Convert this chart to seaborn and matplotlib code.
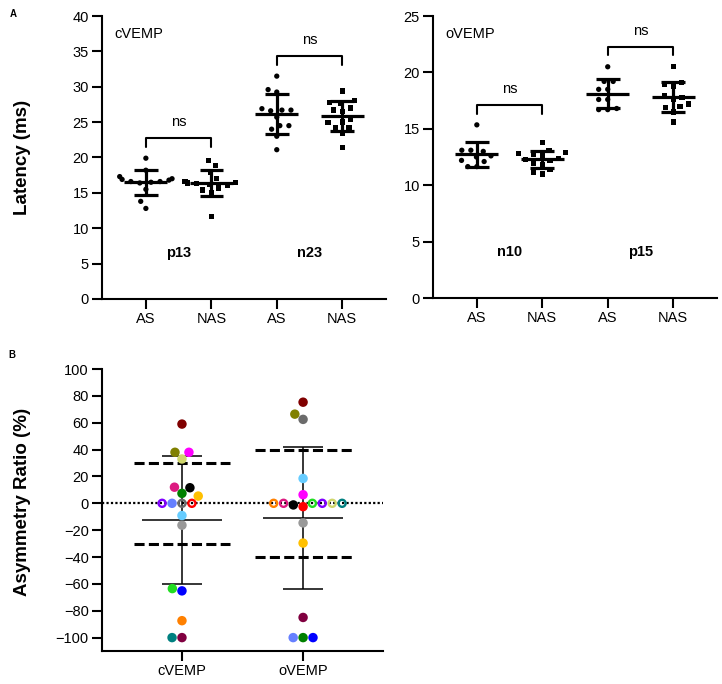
import numpy as np
import pandas as pd
import matplotlib
matplotlib.use("Agg")
import matplotlib.pyplot as plt
import seaborn as sns

# ---- panel A: latencies (ms) ----
p13_as = [19.9, 18.2, 17.3, 17.0, 16.8, 16.9, 16.6, 16.5, 16.4, 16.6, 15.5, 13.8, 12.8]
p13_nas = [19.6, 18.9, 17.9, 17.0, 16.6, 16.5, 16.4, 16.3, 16.2, 16.0, 15.7, 15.4, 15.0, 11.7]
n23_as = [31.5, 29.6, 29.25, 26.7, 26.6, 26.7, 26.9, 25.7, 24.5, 24.0, 24.5, 23.0, 21.1]
n23_nas = [29.4, 28.1, 27.7, 27.8, 27.0, 26.5, 26.7, 25.4, 25.0, 24.9, 24.2, 24.2, 23.4, 21.4]
n10_as = [15.35, 13.0, 13.1, 13.1, 12.6, 12.5, 12.1, 12.2, 11.65, 11.65]
n10_nas = [13.8, 13.1, 12.9, 12.8, 12.7, 12.6, 12.4, 12.3, 12.2, 11.9, 11.8, 11.4, 11.1, 11.0]
p15_as = [20.5, 19.2, 19.2, 18.5, 18.5, 17.6, 17.6, 16.8, 16.7, 16.7]
p15_nas = [20.5, 19.1, 18.9, 18.8, 17.9, 17.8, 17.6, 17.2, 17.0, 16.9, 16.5, 15.6]
groups = ["AS", "NAS"]

# ---- panel B: asymmetry ratio (%) per subject ----
tests = ["cVEMP", "oVEMP"]
ar_cvemp = [59, 38, 38, 33, 11.6, 12, 5.4, 7.4, 0, 0, 0, 0, -9.1, -16.3, -63.5, -65.2, -87.4, -100, -100]
ar_ovemp = [75.3, 66.4, 6.4, 0, -1.2, 0, -29.6, -100, 62.5, -2.5, -100, 0, 18.5, -14.6, 0, -100, 0, 0, -85]
# open symbols (no response)
open_cvemp = [0, 0, 0, 0, 0, 0, 0, 0, 1, 1, 0, 1, 0, 0, 0, 0, 0, 0, 0]
open_ovemp = [0, 0, 0, 1, 0, 1, 0, 0, 0, 0, 0, 1, 0, 0, 1, 0, 1, 1, 0]
normal_limit = [30, 40]

subject_colors = ["#800000", "#808000", "#ff00ff", "#cfd66c", "#000000", "#dc1a80",
                  "#ffc000", "#008000", "#6b6b6b", "#ff0000", "#6680ff", "#8000ff",
                  "#66ccff", "#999999", "#22dd22", "#0000ff", "#ff8000", "#008080", "#800040"]

sns.set_style("ticks")
plt.rcParams["font.family"] = ["Liberation Sans", "DejaVu Sans"]
plt.rcParams.update({"axes.linewidth": 1.5, "text.color": "black", "axes.labelcolor": "black",
                     "axes.edgecolor": "black", "xtick.color": "black", "ytick.color": "black"})
FS = 10.5


def style_axis(ax):
    sns.despine(ax=ax)
    ax.tick_params(axis="both", length=7.5, width=1.5, pad=2, labelsize=FS, colors="black")
    ax.set_xlabel("")


def latency_panel(ax, waves, title, ymax):
    rows = []
    for wave, as_vals, nas_vals in waves:
        for g, vals in zip(groups, (as_vals, nas_vals)):
            for v in vals:
                rows.append({"pos": wave + " " + g, "group": g, "latency": v})
    df = pd.DataFrame(rows)
    order = [w[0] + " " + g for w in waves for g in groups]

    for g, mk in zip(groups, ["o", "s"]):
        sns.swarmplot(data=df[df["group"] == g], x="pos", y="latency", order=order,
                      marker=mk, color="black", size=3.8, linewidth=2.4, edgecolor="none",
                      ax=ax, zorder=3)

    st = df.groupby("pos")["latency"].agg(["mean", "std", "max"]).reindex(order)
    xs = np.arange(len(order))
    lo, hi = st["mean"] - st["std"], st["mean"] + st["std"]
    ax.hlines(st["mean"], xs - 0.33, xs + 0.33, color="black", lw=2.3, zorder=4)
    ax.vlines(xs, lo, hi, color="black", lw=2.3, zorder=4)
    ax.hlines(hi, xs - 0.18, xs + 0.18, color="black", lw=2.3, zorder=4)
    ax.hlines(lo, xs - 0.18, xs + 0.18, color="black", lw=2.3, zorder=4)

    for i, w in enumerate(waves):
        a, b = 2 * i, 2 * i + 1
        y0 = st["max"].iloc[[a, b]].max() + 0.04 * ymax
        y1 = y0 + 0.03 * ymax
        ax.plot([a, a, b, b], [y0, y1, y1, y0], color="black", lw=1.5)
        ax.annotate("ns", ((a + b) / 2, y1), xytext=(0, 9), textcoords="offset points",
                    ha="center", va="baseline", fontsize=FS)
        ax.text((a + b) / 2, 0.164, w[0], transform=ax.get_xaxis_transform(),
                ha="center", va="center", fontsize=FS, fontweight="bold")

    ax.text(0.042, 0.936, title, transform=ax.transAxes, ha="left", va="center", fontsize=FS)
    ax.set_xlim(-0.67, 3.67)
    ax.set_ylim(0, ymax)
    ax.set_yticks(np.arange(0, ymax + 1, 5))
    ax.set_xticks(xs)
    ax.set_xticklabels(groups * 2)
    style_axis(ax)
    ax.set_ylabel("")


fig = plt.figure(figsize=(7.22, 6.84), dpi=100)
ax1 = fig.add_axes([0.1413, 0.5629, 0.3934, 0.4137])
ax2 = fig.add_axes([0.5997, 0.5643, 0.3934, 0.4123])
ax3 = fig.add_axes([0.1413, 0.0482, 0.3892, 0.4123])

latency_panel(ax1, [("p13", p13_as, p13_nas), ("n23", n23_as, n23_nas)], "cVEMP", 40)
latency_panel(ax2, [("n10", n10_as, n10_nas), ("p15", p15_as, p15_nas)], "oVEMP", 25)
ax1.set_ylabel("Latency (ms)", fontsize=13.5, fontweight="bold")
ax1.yaxis.set_label_coords(-0.25, 0.5)

# ---- panel B ----
n = len(ar_cvemp)
df_b = pd.DataFrame({
    "test": np.repeat(tests, n),
    "subject": list(range(n)) * 2,
    "ar": ar_cvemp + ar_ovemp,
    "open": open_cvemp + open_ovemp,
})
pal = {i: subject_colors[i] for i in range(n)}
sns.swarmplot(data=df_b, x="test", y="ar", hue="subject", palette=pal, order=tests,
              size=5.1, linewidth=1.7, legend=False, ax=ax3, zorder=3)

for coll, (t, sub) in zip(ax3.collections[:2], df_b.groupby("test", sort=False)):
    cols = [subject_colors[s] for s in sub["subject"]]
    is_open = sub["open"].to_numpy().astype(bool)
    coll.set_facecolors(["none" if o else c for o, c in zip(is_open, cols)])
    coll.set_edgecolors(cols)

ax3.axhline(0, color="black", lw=1.6, ls=(0, (1, 1)), zorder=1)
st_b = df_b.groupby("test")["ar"].agg(["mean", "std"]).reindex(tests)
xb = np.arange(len(tests))
lo_b, hi_b = st_b["mean"] - st_b["std"], st_b["mean"] + st_b["std"]
ax3.hlines(st_b["mean"], xb - 0.33, xb + 0.33, color="black", lw=1.1, zorder=2)
ax3.vlines(xb, lo_b, hi_b, color="black", lw=1.1, zorder=2)
ax3.hlines(hi_b, xb - 0.165, xb + 0.165, color="black", lw=1.1, zorder=2)
ax3.hlines(lo_b, xb - 0.165, xb + 0.165, color="black", lw=1.1, zorder=2)
lim = np.array(normal_limit)
for sign in (1, -1):
    ax3.hlines(sign * lim, xb - 0.4, xb + 0.4, color="black", lw=2.2,
               linestyles=[(0, (3.3, 1.4))], zorder=2)

ax3.set_xlim(-0.66, 1.66)
ax3.set_ylim(-110, 100)
ax3.set_yticks(np.arange(-100, 101, 20))
style_axis(ax3)
ax3.set_ylabel("Asymmetry Ratio (%)", fontsize=13.5, fontweight="bold")
ax3.yaxis.set_label_coords(-0.253, 0.528)

fig.text(0.014, 0.979, "A", fontsize=7, fontweight="bold", va="center")
fig.text(0.012, 0.481, "B", fontsize=7, fontweight="bold", va="center")

fig.savefig("out.png", dpi=100)
